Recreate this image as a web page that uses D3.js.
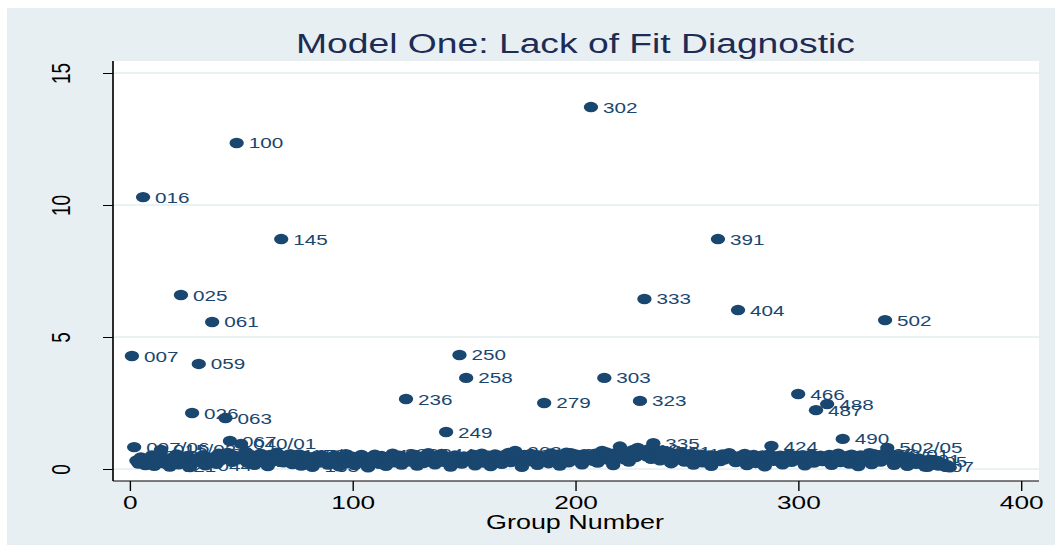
<!DOCTYPE html>
<html>
<head>
<meta charset="utf-8">
<script src="https://cdn.jsdelivr.net/npm/d3@7"></script>
<style>
  body { margin: 0; background: #fff; }
  svg { display: block; font-family: "Liberation Sans", Arial, sans-serif; }
</style>
</head>
<body>
<div id="chart"></div>
<script>
// Lack of fit value for each group, group 1 .. 368
const fitValues = [
  4.28, 0.83, 0.32, 0.21, 0.44, 10.30, 0.15, 0.38, 0.26, 0.51,
  0.12, 0.35, 0.47, 0.72, 0.22, 0.40, 0.30, 0.09, 0.43, 0.27,
  0.55, 0.18, 6.59, 0.36, 0.29, 0.49, 0.07, 2.12, 0.33, 0.41,
  3.98, 0.24, 0.52, 0.14, 0.39, 0.31, 5.57, 0.46, 0.20, 0.58,
  0.34, 0.42, 1.93, 0.61, 1.06, 0.27, 0.50, 12.35, 0.37, 0.95,
  0.44, 0.66, 0.23, 0.54, 0.35, 0.16, 0.48, 0.40, 0.57, 0.28,
  0.45, 0.11, 0.53, 0.36, 0.30, 0.62, 0.41, 8.71, 0.25, 0.50,
  0.38, 0.56, 0.19, 0.46, 0.32, 0.55, 0.13, 0.42, 0.49, 0.27,
  0.35, 0.08, 0.47, 0.39, 0.24, 0.52, 0.33, 0.44, 0.17, 0.40,
  0.29, 0.51, 0.37, 0.10, 0.43, 0.31, 0.56, 0.22, 0.38, 0.47,
  0.15, 0.42, 0.34, 0.53, 0.26, 0.39, 0.06, 0.45, 0.30, 0.54,
  0.36, 0.20, 0.49, 0.40, 0.12, 0.44, 0.32, 0.58, 0.25, 0.41,
  0.50, 0.17, 0.37, 2.65, 0.45, 0.28, 0.55, 0.35, 0.13, 0.47,
  0.39, 0.23, 0.52, 0.60, 0.31, 0.43, 0.18, 0.49, 0.36, 0.57,
  0.27, 1.40, 0.44, 0.09, 0.40, 0.51, 0.33, 4.32, 0.21, 0.48,
  3.45, 0.38, 0.30, 0.54, 0.14, 0.45, 0.35, 0.58, 0.24, 0.42,
  0.50, 0.11, 0.39, 0.55, 0.31, 0.46, 0.20, 0.52, 0.37, 0.61,
  0.26, 0.43, 0.68, 0.34, 0.47, 0.08, 0.53, 0.40, 0.29, 0.57,
  0.36, 0.44, 0.16, 0.50, 0.32, 2.50, 0.48, 0.22, 0.59, 0.39,
  0.30, 0.54, 0.13, 0.45, 0.37, 0.62, 0.25, 0.60, 0.41, 0.55,
  0.33, 0.50, 0.18, 0.56, 0.38, 0.44, 13.71, 0.31, 0.58, 0.24,
  0.51, 0.68, 3.45, 0.63, 0.35, 0.49, 0.15, 0.60, 0.42, 0.85,
  0.54, 0.37, 0.66, 0.28, 0.52, 0.72, 0.45, 0.80, 2.58, 0.64,
  6.44, 0.48, 0.75, 0.39, 0.98, 0.62, 0.70, 0.33, 0.56, 0.68,
  0.49, 0.63, 0.22, 0.58, 0.43, 0.53, 0.36, 0.61, 0.28, 0.50,
  0.41, 0.57, 0.17, 0.47, 0.38, 0.54, 0.25, 0.45, 0.34, 0.51,
  0.12, 0.43, 0.48, 8.71, 0.30, 0.55, 0.37, 0.46, 0.60, 0.52,
  0.40, 0.26, 6.02, 0.49, 0.33, 0.57, 0.15, 0.44, 0.39, 0.53,
  0.23, 0.47, 0.35, 0.51, 0.10, 0.42, 0.55, 0.87, 0.31, 0.48,
  0.37, 0.50, 0.18, 0.45, 0.40, 0.56, 0.27, 0.43, 0.49, 2.84,
  0.34, 0.52, 0.14, 0.47, 0.38, 0.55, 0.24, 2.23, 0.44, 0.50,
  0.30, 0.41, 2.46, 0.53, 0.16, 0.46, 0.36, 0.58, 0.26, 1.14,
  0.42, 0.49, 0.21, 0.54, 0.39, 0.45, 0.11, 0.51, 0.33, 0.47,
  0.37, 0.60, 0.19, 0.56, 0.41, 0.50, 0.28, 0.55, 5.64, 0.80,
  0.35, 0.48, 0.16, 0.43, 0.52, 0.26, 0.39, 0.46, 0.12, 0.41,
  0.30, 0.37, 0.20, 0.40, 0.28, 0.33, 0.09, 0.08, 0.35, 0.17,
  0.24, 0.31, 0.13, 0.22, 0.18, 0.10, 0.14, 0.06
];

// groups that carry a marker label, and the label text
const labelGroups = [
  1, 2, 4, 6, 10, 14, 18, 23, 26, 28,
  31, 34, 37, 40, 43, 45, 48, 50, 55, 60,
  68, 72, 76, 82, 90, 96, 104, 110, 118, 124,
  128, 134, 138, 142, 146, 148, 151, 156, 164, 173,
  178, 186, 192, 198, 204, 207, 213, 218, 226, 229,
  231, 235, 240, 244, 250, 258, 264, 268, 273, 278,
  284, 288, 294, 300, 304, 308, 313, 316, 320, 326,
  332, 334, 339, 340, 346, 352, 355, 358
];
const labelTexts = [
  '007', '097/06', '010', '016', '018', '015/02', '021', '025', '027', '026',
  '059', '044', '061', '058', '063', '067', '100', '040/01', '106', '118',
  '145', '145/04', '152', '163', '178', '189', '201', '210', '222', '236',
  '239', '244', '246', '249', '252', '250', '258', '259', '262', '263',
  '270', '279', '281', '283', '296', '302', '303', '309', '318', '323',
  '333', '335', '301', '341', '352', '364', '391', '379', '404', '411',
  '418', '424', '431', '466', '470', '487', '488', '476', '490', '493',
  '495', '488/01', '502', '502/05', '503', '501', '505', '507'
];

const xTicks = [0, 100, 200, 300, 400];
const yTicks = [0, 5, 10, 15];

const width = 1062, height = 552;
const sx = 1.38; // the picture is stretched sideways, so draw in a squeezed space
const px = v => v / sx;

const navy = '#1a476f';

const svg = d3.select('#chart').append('svg')
  .attr('width', width)
  .attr('height', height);

// graph region
svg.append('rect')
  .attr('x', 7).attr('y', 8)
  .attr('width', 1048).attr('height', 537)
  .attr('fill', '#e8eff2');

const g = svg.append('g').attr('transform', `scale(${sx},1)`);

// plot region
const plot = { left: 113, right: 1039, top: 61, bottom: 481 };
g.append('rect')
  .attr('x', px(plot.left)).attr('y', plot.top)
  .attr('width', px(plot.right - plot.left))
  .attr('height', plot.bottom - plot.top)
  .attr('fill', '#fff');

const x = d3.scaleLinear().domain([0, 400]).range([px(129.7), px(1021)]);
const y = d3.scaleLinear().domain([0, 15]).range([469, 73]);

// grid lines
g.selectAll('.grid')
  .data(yTicks)
  .enter()
  .append('line')
  .attr('class', 'grid')
  .attr('x1', px(plot.left)).attr('x2', px(plot.right))
  .attr('y1', d => y(d)).attr('y2', d => y(d))
  .style('stroke', '#e5eef1')
  .style('stroke-width', 1.6);

// title
g.append('text')
  .attr('x', px(575.5)).attr('y', 53)
  .attr('text-anchor', 'middle')
  .style('font-size', '27px')
  .style('fill', '#1c2c55')
  .text('Model One: Lack of Fit Diagnostic');

// x axis
const xAxis = g.append('g')
  .attr('transform', `translate(0,${plot.bottom})`)
  .call(d3.axisBottom(x).tickValues(xTicks).tickSize(10).tickSizeOuter(0).tickPadding(5));
xAxis.select('.domain').remove();
xAxis.selectAll('.tick line').style('stroke', '#000').style('stroke-width', 1);
xAxis.selectAll('.tick text')
  .style('font-size', '19px')
  .style('fill', '#000')
  .style('font-family', '"Liberation Sans", Arial, sans-serif');

g.append('line')
  .attr('x1', px(plot.left)).attr('x2', px(plot.right))
  .attr('y1', plot.bottom).attr('y2', plot.bottom)
  .style('stroke', '#000').style('stroke-width', 1.2);

g.append('text')
  .attr('x', px(575)).attr('y', 529)
  .attr('text-anchor', 'middle')
  .style('font-size', '19.5px')
  .style('fill', '#000')
  .text('Group Number');

// y axis
const yAxis = g.append('g')
  .attr('transform', `translate(${px(plot.left)},0)`)
  .call(d3.axisLeft(y).tickValues(yTicks).tickSize(px(10)).tickSizeOuter(0));
yAxis.select('.domain').remove();
yAxis.selectAll('.tick line').style('stroke', '#000').style('stroke-width', 1);
yAxis.selectAll('.tick text')
  .attr('x', null).attr('dy', null)
  .attr('text-anchor', 'middle')
  .attr('transform', `translate(${px(70) - px(plot.left)},0) rotate(-90)`)
  .style('font-size', '19px')
  .style('fill', '#000')
  .style('font-family', '"Liberation Sans", Arial, sans-serif');

g.append('line')
  .attr('x1', px(plot.left)).attr('x2', px(plot.left))
  .attr('y1', plot.top).attr('y2', plot.bottom)
  .style('stroke', '#000').style('stroke-width', 1.2);

// points, each marker followed by its label
const points = fitValues.map((v, i) => {
  const k = labelGroups.indexOf(i + 1);
  return { group: i + 1, value: v, label: k >= 0 ? labelTexts[k] : null };
});

const pt = g.selectAll('.pt')
  .data(points)
  .enter()
  .append('g')
  .attr('class', 'pt');

pt.append('circle')
  .attr('cx', d => x(d.group))
  .attr('cy', d => y(d.value))
  .attr('r', 5.2)
  .style('fill', navy);

pt.filter(d => d.label)
  .append('text')
  .attr('x', d => x(d.group) + px(12))
  .attr('y', d => y(d.value) + 5.5)
  .style('font-size', '15px')
  .style('fill', navy)
  .text(d => d.label);
</script>
</body>
</html>
